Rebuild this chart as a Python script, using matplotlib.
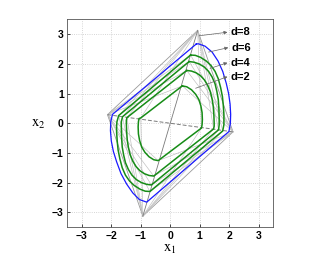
import matplotlib.pyplot as plt
import numpy as np

plt.rcParams['mathtext.fontset'] = 'stix'

# outer polytope vertices (top, right, bottom, left)
outer_x = [0.93, 2.13, -0.93, -2.13]
outer_y = [3.13, -0.29, -3.13, 0.29]

# blue curve (largest set)
blue_x = [0.88, -1.96, -2.02, -2.03, -2.00, -1.93, -1.82, -1.67, -1.48, -1.27, -1.05, -0.80,
          1.99, 2.04, 2.05, 2.03, 1.98, 1.90, 1.78, 1.62, 1.42, 1.18, 0.95, 0.88]
blue_y = [2.67, 0.30, 0.05, -0.25, -0.60, -0.95, -1.30, -1.70, -2.05, -2.35, -2.57, -2.66,
          -0.28, 0.00, 0.30, 0.65, 1.00, 1.35, 1.75, 2.10, 2.40, 2.60, 2.68, 2.67]

# green curves, inner to outer
g1_x = [0.41, -1.00, -1.06, -1.08, -1.09, -1.08, -1.04, -0.97, -0.86, -0.72, -0.56, -0.41,
        1.06, 1.08, 1.09, 1.08, 1.04, 0.97, 0.86, 0.72, 0.56, 0.41]
g1_y = [1.26, 0.18, 0.16, 0.05, -0.12, -0.36, -0.58, -0.80, -0.98, -1.13, -1.23, -1.26,
        -0.16, -0.05, 0.12, 0.36, 0.58, 0.80, 0.98, 1.13, 1.23, 1.26]
g2_x = [0.56, -1.47, -1.49, -1.49, -1.48, -1.46, -1.42, -1.36, -1.27, -1.16, -1.03, -0.88, -0.72, -0.56,
        1.47, 1.49, 1.49, 1.48, 1.46, 1.42, 1.36, 1.27, 1.16, 1.03, 0.88, 0.72, 0.56]
g2_y = [1.78, 0.19, 0.10, 0.00, -0.28, -0.56, -0.82, -1.06, -1.28, -1.46, -1.60, -1.70, -1.76, -1.78,
        -0.19, -0.10, 0.00, 0.28, 0.56, 0.82, 1.06, 1.28, 1.46, 1.60, 1.70, 1.76, 1.78]
g3_x = [0.64, -1.62, -1.66, -1.66, -1.65, -1.63, -1.58, -1.52, -1.42, -1.30, -1.15, -0.98, -0.80, -0.64,
        1.64, 1.66, 1.66, 1.65, 1.63, 1.58, 1.52, 1.42, 1.30, 1.15, 0.98, 0.80, 0.64]
g3_y = [2.08, 0.22, 0.05, -0.20, -0.50, -0.80, -1.08, -1.33, -1.56, -1.75, -1.90, -2.00, -2.06, -2.08,
        -0.22, -0.05, 0.20, 0.50, 0.80, 1.08, 1.33, 1.56, 1.75, 1.90, 2.00, 2.06, 2.08]
g4_x = [0.69, -1.75, -1.81, -1.82, -1.82, -1.80, -1.77, -1.71, -1.63, -1.52, -1.38, -1.22, -1.03, -0.85, -0.69,
        1.78, 1.82, 1.82, 1.82, 1.80, 1.77, 1.71, 1.63, 1.52, 1.38, 1.22, 1.03, 0.85, 0.69]
g4_y = [2.30, 0.26, 0.05, -0.10, -0.30, -0.60, -0.90, -1.20, -1.50, -1.75, -1.95, -2.10, -2.22, -2.29, -2.30,
        -0.26, -0.05, 0.10, 0.30, 0.60, 0.90, 1.20, 1.50, 1.75, 1.95, 2.10, 2.22, 2.29, 2.30]
greens = [(g1_x, g1_y), (g2_x, g2_y), (g3_x, g3_y), (g4_x, g4_y)]

# corner points of the green curves: top, right, bottom, left
corner_top = [(0.41, 1.26), (0.56, 1.78), (0.64, 2.08), (0.69, 2.30)]
corner_right = [(1.06, -0.16), (1.47, -0.19), (1.64, -0.22), (1.78, -0.26)]
corner_bottom = [(-0.41, -1.26), (-0.56, -1.78), (-0.64, -2.08), (-0.69, -2.30)]
corner_left = [(-1.00, 0.18), (-1.47, 0.19), (-1.62, 0.22), (-1.75, 0.26)]

# labels with arrow tail and head
labels = ['d=8', 'd=6', 'd=4', 'd=2']
tails = [(0.98, 2.95), (1.30, 2.40), (1.35, 1.85), (0.86, 1.18)]
heads = [(1.94, 3.07), (1.97, 2.55), (1.94, 2.04), (1.94, 1.57)]

fig = plt.figure(figsize=(3.29, 2.56), dpi=100)
ax = fig.add_axes([0.204, 0.113, 0.627, 0.811])

gc = '#9a9a9a'
T = (outer_x[0], outer_y[0]); R = (outer_x[1], outer_y[1])
B = (outer_x[2], outer_y[2]); L = (outer_x[3], outer_y[3])

## GRAY CONSTRUCTION LINES
ax.plot(outer_x + outer_x[:1], outer_y + outer_y[:1], color=gc, lw=0.6)
for k in range(4):
    for (p, q) in [(T, corner_left[k]), (T, corner_right[k]), (B, corner_left[k]), (B, corner_right[k]),
                   (L, corner_top[k]), (L, corner_bottom[k]), (R, corner_top[k]), (R, corner_bottom[k])]:
        ax.plot([p[0], q[0]], [p[1], q[1]], color='#bdbdbd', lw=0.45)
ax.plot([T[0], B[0]], [T[1], B[1]], color='#7a7a7a', lw=0.6)
ax.plot([L[0], R[0]], [L[1], R[1]], color='#7a7a7a', lw=0.7, ls=(0, (4, 2)))

## CURVES
ax.plot(blue_x, blue_y, color='#1a1aff', lw=0.9)
for gx, gy in greens:
    ax.plot(gx, gy, color='#168c16', lw=1.1)

## LABELS
for lab, t, h in zip(labels, tails, heads):
    ax.annotate('', xy=h, xytext=t,
                arrowprops=dict(arrowstyle='-|>', lw=0.5, color='#666666',
                                mutation_scale=5, shrinkA=0, shrinkB=0))
    ax.text(h[0] + 0.12, h[1], lab, fontsize=8, fontweight='bold',
            va='center', ha='left', family='Liberation Sans')

## FORMATTING
ax.set_xlim(-3.5, 3.5)
ax.set_ylim(-3.5, 3.5)
ticks = [-3, -2, -1, 0, 1, 2, 3]
tick_labels = ['\u22123', '\u22122', '\u22121', '0', '1', '2', '3']
ax.set_xticks(ticks)
ax.set_yticks(ticks)
ax.set_xticklabels(tick_labels)
ax.set_yticklabels(tick_labels)
for lbl in ax.get_xticklabels() + ax.get_yticklabels():
    lbl.set_fontweight('bold')
    lbl.set_fontsize(7.5)
    lbl.set_family('Liberation Sans')
ax.tick_params(direction='in', length=2.5, width=0.5, pad=2.5)
ax.grid(True, ls=':', color='#c8c8c8', lw=0.6)
for s in ax.spines.values():
    s.set_linewidth(0.6)
    s.set_color('#555555')

ax.set_xlabel(r'$\mathrm{x}_1$', fontsize=10.5, labelpad=0)
ax.set_ylabel(r'$\mathrm{x}_2$', fontsize=10.5, rotation=0, labelpad=10, va='center')

fig.savefig('out.png', dpi=100)
